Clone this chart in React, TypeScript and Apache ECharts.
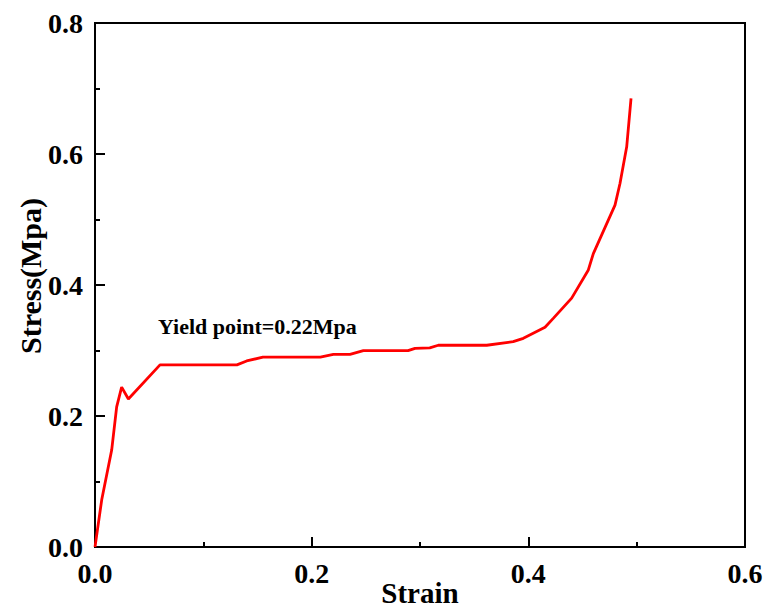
import React, { useEffect, useRef } from "react";
import * as echarts from "echarts";

const strain = [
  0, 0.0062, 0.0154, 0.02, 0.0246, 0.0308, 0.06, 0.1, 0.131, 0.14, 0.155, 0.208, 0.22, 0.2354,
  0.2477, 0.289, 0.2954, 0.309, 0.3169, 0.3616, 0.386, 0.3954, 0.4154, 0.423, 0.44, 0.4554, 0.46,
  0.48, 0.4846, 0.4908, 0.4948,
];
const stress = [
  0, 0.072, 0.148, 0.214, 0.244, 0.226, 0.278, 0.278, 0.278, 0.284, 0.29, 0.29, 0.294, 0.294,
  0.2997, 0.2997, 0.3033, 0.304, 0.308, 0.308, 0.3135, 0.3186, 0.3354, 0.349, 0.38, 0.423, 0.448,
  0.522, 0.555, 0.611, 0.685,
];
const xTitle = "Strain";
const yTitle = "Stress(Mpa)";
const annotation = "Yield point=0.22Mpa";

const FONT = "'Liberation Serif', 'Times New Roman', serif";

export default function App() {
  const ref = useRef<HTMLDivElement>(null);
  useEffect(() => {
    if (!ref.current) return;
    const chart = echarts.init(ref.current, undefined, { renderer: "svg" });
    const data = strain.map((x, i) => [x, stress[i]]);
    const axisCommon = {
      type: "value" as const,
      axisLine: { show: true, onZero: false, lineStyle: { color: "#000", width: 2 } },
      axisTick: { show: true, inside: true, length: 10, lineStyle: { color: "#000", width: 2 } },
      minorTick: { show: true, splitNumber: 2, length: 5, lineStyle: { color: "#000", width: 2 } },
      splitLine: { show: false },
      axisLabel: {
        color: "#000",
        fontFamily: FONT,
        fontWeight: "bold" as const,
        fontSize: 28,
        margin: 12,
        formatter: (v: number) => v.toFixed(1),
      },
      nameMoveOverlap: false,
      nameTextStyle: { color: "#000", fontFamily: FONT, fontWeight: "bold" as const, fontSize: 29 },
    };
    chart.setOption({
      animation: false,
      backgroundColor: "#fff",
      grid: {
        left: 95,
        top: 23,
        right: 22,
        bottom: 61,
        show: true,
        borderColor: "#000",
        borderWidth: 2,
        containLabel: false,
        outerBoundsMode: "none",
      },
      xAxis: {
        ...axisCommon,
        min: 0,
        max: 0.6,
        interval: 0.2,
        name: xTitle,
        nameLocation: "middle",
        nameGap: 31,
      },
      yAxis: {
        ...axisCommon,
        min: 0,
        max: 0.8,
        interval: 0.2,
        name: yTitle,
        nameLocation: "middle",
        nameGap: 50,
        nameTextStyle: { ...axisCommon.nameTextStyle, fontSize: 30, padding: [0, 0, 0, 18] },
      },
      graphic: [
        {
          type: "text",
          left: 158,
          top: 315,
          style: {
            text: annotation,
            fill: "#000",
            font: `bold 22px ${FONT}`,
          },
        },
      ],
      series: [
        {
          type: "line",
          data,
          showSymbol: false,
          smooth: false,
          lineStyle: { color: "#ff0000", width: 2.8 },
        },
      ],
    });
    return () => chart.dispose();
  }, []);
  return (
    <div
      ref={ref}
      style={{ position: "absolute", left: 0, top: 0, width: 767, height: 608 }}
    />
  );
}
